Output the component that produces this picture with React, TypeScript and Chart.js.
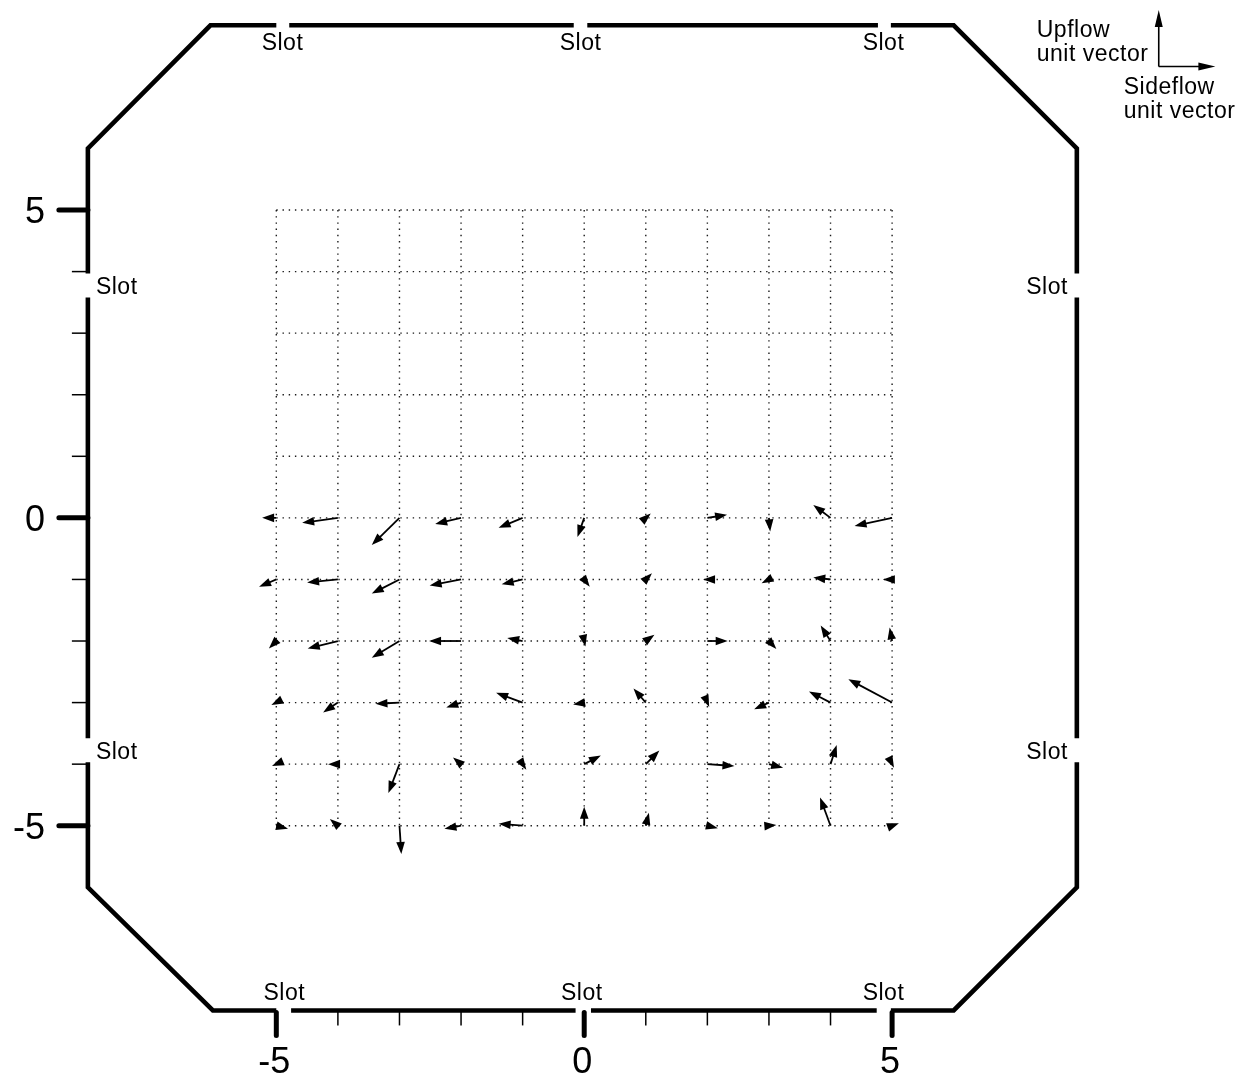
import React, { useEffect, useRef } from 'react';
import { Chart, registerables } from 'chart.js';

Chart.register(...registerables);

// ---------- data ----------
const GRID_LINES = [-5, -4, -3, -2, -1, 0, 1, 2, 3, 4, 5];
const COLUMNS_X = [-5, -4, -3, -2, -1, 0, 1, 2, 3, 4, 5];

// flow vectors (grid units) for each measurement row, columns x = -5..5
const SIDEFLOW_Y0 = [-0.23, -0.58, -0.45, -0.42, -0.39, -0.11, 0.08, 0.32, 0.02, -0.28, -0.61];
const UPFLOW_Y0 = [0.0, -0.08, -0.44, -0.1, -0.16, -0.31, 0.07, 0.05, -0.22, 0.21, -0.13];
const SIDEFLOW_Y1 = [-0.28, -0.5, -0.45, -0.51, -0.34, 0.09, 0.1, -0.07, -0.12, -0.28, -0.15];
const UPFLOW_Y1 = [-0.12, -0.05, -0.23, -0.1, -0.08, -0.12, 0.1, 0.0, -0.06, 0.03, 0.0];
const SIDEFLOW_Y2 = [-0.12, -0.49, -0.45, -0.52, -0.25, 0.02, 0.14, 0.33, 0.12, -0.16, -0.04];
const UPFLOW_Y2 = [-0.12, -0.12, -0.27, 0.0, 0.05, -0.09, 0.1, 0.0, -0.13, 0.25, 0.22];
const SIDEFLOW_Y3 = [-0.08, -0.24, -0.39, -0.24, -0.43, -0.18, -0.2, 0.03, -0.24, -0.35, -0.71];
const UPFLOW_Y3 = [-0.04, -0.16, -0.02, -0.08, 0.16, -0.03, 0.23, -0.07, -0.11, 0.18, 0.38];
const SIDEFLOW_Y4 = [-0.07, -0.16, -0.18, -0.13, 0.06, 0.27, 0.22, 0.44, 0.23, 0.1, 0.03];
const UPFLOW_Y4 = [-0.03, 0.0, -0.47, 0.11, -0.09, 0.14, 0.22, -0.03, -0.06, 0.31, -0.06];
const SIDEFLOW_Y5 = [0.19, -0.13, 0.03, -0.27, -0.39, 0.0, 0.05, 0.17, 0.12, -0.17, 0.11];
const UPFLOW_Y5 = [-0.05, 0.11, -0.46, -0.05, 0.03, 0.31, 0.21, -0.04, 0.01, 0.46, 0.04];

const FLOW_ROWS = [
  { y: 0, side: SIDEFLOW_Y0, up: UPFLOW_Y0 },
  { y: -1, side: SIDEFLOW_Y1, up: UPFLOW_Y1 },
  { y: -2, side: SIDEFLOW_Y2, up: UPFLOW_Y2 },
  { y: -3, side: SIDEFLOW_Y3, up: UPFLOW_Y3 },
  { y: -4, side: SIDEFLOW_Y4, up: UPFLOW_Y4 },
  { y: -5, side: SIDEFLOW_Y5, up: UPFLOW_Y5 },
];

// vessel boundary (octagon) with slot openings; null = gap
const BOUNDARY_X = [
  -4.79, -0.17, null, 0.05, 4.77, null, 4.98, 6, 8, 8, null, 8, 8, null, 8, 8, 6, 4.98, null,
  4.75, 0.11, null, -0.14, -4.76, null, -5.0, -6.03, -8.06, -8.06, null, -8.06, -8.06, null, -8.06, -8.06, -6.07, -5.0,
];
const BOUNDARY_Y = [
  8, 8, null, 8, 8, null, 8, 8, 6, 3.97, null, 3.58, -3.58, null, -3.97, -6, -8, -8, null,
  -8, -8, null, -8, -8, null, -8, -8, -6, -3.97, null, -3.58, 3.58, null, 3.97, 6, 8, 8,
];

const EDGE_LEFT = -8.06;
const EDGE_RIGHT = 8;
const EDGE_TOP = 8;
const EDGE_BOTTOM = -8;

const SLOT_TOP_X = [-4.9, -0.06, 4.86];
const SLOT_BOTTOM_X = [-4.87, -0.04, 4.86];
const SLOT_SIDE_Y = [3.775, -3.775];

const LEFT_MAJOR_TICKS = [5, 0, -5];
const LEFT_MINOR_TICKS = [4, 3, 2, 1, -1, -2, -3, -4];
const BOTTOM_MAJOR_TICKS = [-5, 0, 5];
const BOTTOM_MINOR_TICKS = [-4, -3, -2, -1, 1, 2, 3, 4];
const TICK_VALUES = [-5, 0, 5];
const TICK_LABELS = ['-5', '0', '5'];

const LEGEND_ORIGIN_X = 9.33;
const LEGEND_ORIGIN_Y = 7.33;
const UNIT_VECTOR = 0.92;

const FONT = '"Liberation Sans", Arial, Helvetica, sans-serif';

// ---------- drawing helpers ----------
function arrow(
  ctx: CanvasRenderingContext2D,
  x0: number, y0: number, x1: number, y1: number,
  headLen: number, headHalf: number, lw: number
) {
  const dx = x1 - x0;
  const dy = y1 - y0;
  const len = Math.hypot(dx, dy);
  if (len < 0.01) return;
  const ux = dx / len;
  const uy = dy / len;
  const bx = x1 - ux * headLen;
  const by = y1 - uy * headLen;
  ctx.lineWidth = lw;
  if (len > headLen) {
    ctx.beginPath();
    ctx.moveTo(x0, y0);
    ctx.lineTo(bx + ux * 1, by + uy * 1);
    ctx.stroke();
  }
  ctx.beginPath();
  ctx.moveTo(x1, y1);
  ctx.lineTo(bx - uy * headHalf, by + ux * headHalf);
  ctx.lineTo(bx + uy * headHalf, by - ux * headHalf);
  ctx.closePath();
  ctx.fill();
}

const flowPlugin = {
  id: 'flowPlugin',
  beforeDatasetsDraw(chart: any) {
    const { ctx } = chart;
    const xs = chart.scales.x;
    const ys = chart.scales.y;
    const gmin = GRID_LINES[0];
    const gmax = GRID_LINES[GRID_LINES.length - 1];
    ctx.save();
    ctx.strokeStyle = '#1a1a1a';
    ctx.lineWidth = 1.4;
    ctx.setLineDash([1.4, 4.8]);
    for (const v of GRID_LINES) {
      const px = xs.getPixelForValue(v);
      ctx.beginPath();
      ctx.moveTo(px, ys.getPixelForValue(gmax));
      ctx.lineTo(px, ys.getPixelForValue(gmin));
      ctx.stroke();
      const py = ys.getPixelForValue(v);
      ctx.beginPath();
      ctx.moveTo(xs.getPixelForValue(gmin), py);
      ctx.lineTo(xs.getPixelForValue(gmax), py);
      ctx.stroke();
    }
    ctx.restore();
  },
  afterDatasetsDraw(chart: any) {
    const { ctx } = chart;
    const xs = chart.scales.x;
    const ys = chart.scales.y;
    const left = xs.getPixelForValue(EDGE_LEFT);
    const right = xs.getPixelForValue(EDGE_RIGHT);
    const top = ys.getPixelForValue(EDGE_TOP);
    const bottom = ys.getPixelForValue(EDGE_BOTTOM);

    ctx.save();
    ctx.strokeStyle = '#000';
    ctx.fillStyle = '#000';
    ctx.lineCap = 'butt';

    // left ticks
    for (const t of LEFT_MINOR_TICKS) {
      const py = ys.getPixelForValue(t);
      ctx.lineWidth = 1.5;
      ctx.beginPath();
      ctx.moveTo(left - 16, py);
      ctx.lineTo(left, py);
      ctx.stroke();
    }
    ctx.lineCap = 'round';
    for (const t of LEFT_MAJOR_TICKS) {
      const py = ys.getPixelForValue(t);
      ctx.lineWidth = 5;
      ctx.beginPath();
      ctx.moveTo(left - 29, py);
      ctx.lineTo(left, py);
      ctx.stroke();
    }
    ctx.lineCap = 'butt';
    // bottom ticks
    for (const t of BOTTOM_MINOR_TICKS) {
      const px = xs.getPixelForValue(t);
      ctx.lineWidth = 1.5;
      ctx.beginPath();
      ctx.moveTo(px, bottom);
      ctx.lineTo(px, bottom + 15);
      ctx.stroke();
    }
    ctx.lineCap = 'round';
    for (const t of BOTTOM_MAJOR_TICKS) {
      const px = xs.getPixelForValue(t);
      ctx.lineWidth = 5;
      ctx.beginPath();
      ctx.moveTo(px, bottom + 2);
      ctx.lineTo(px, bottom + 25);
      ctx.stroke();
    }
    ctx.lineCap = 'butt';

    // tick labels
    ctx.font = `36px ${FONT}`;
    ctx.textBaseline = 'alphabetic';
    ctx.textAlign = 'right';
    LEFT_MAJOR_TICKS.forEach((t) => {
      const label = TICK_LABELS[TICK_VALUES.indexOf(t)];
      ctx.fillText(label, 45, ys.getPixelForValue(t) + 13);
    });
    ctx.textAlign = 'center';
    BOTTOM_MAJOR_TICKS.forEach((t) => {
      const label = TICK_LABELS[TICK_VALUES.indexOf(t)];
      ctx.fillText(label, xs.getPixelForValue(t) - 2, bottom + 63);
    });

    // slot labels
    ctx.font = `23px ${FONT}`;
    (ctx as any).letterSpacing = '0.5px';
    ctx.textAlign = 'center';
    for (const sx of SLOT_TOP_X) {
      ctx.fillText('Slot', xs.getPixelForValue(sx), top + 25);
    }
    for (const sx of SLOT_BOTTOM_X) {
      ctx.fillText('Slot', xs.getPixelForValue(sx), bottom - 10);
    }
    ctx.textAlign = 'left';
    for (const sy of SLOT_SIDE_Y) {
      ctx.fillText('Slot', left + 8, ys.getPixelForValue(sy) + 8.5);
    }
    ctx.textAlign = 'right';
    for (const sy of SLOT_SIDE_Y) {
      ctx.fillText('Slot', right - 9, ys.getPixelForValue(sy) + 8.5);
    }

    // legend
    const lx = xs.getPixelForValue(LEGEND_ORIGIN_X);
    const ly = ys.getPixelForValue(LEGEND_ORIGIN_Y);
    const lux = xs.getPixelForValue(LEGEND_ORIGIN_X + UNIT_VECTOR);
    const luy = ys.getPixelForValue(LEGEND_ORIGIN_Y + UNIT_VECTOR);
    arrow(ctx, lx, ly, lx, luy, 17, 4, 1.6);
    arrow(ctx, lx, ly, lux, ly, 17, 4, 1.6);
    ctx.textAlign = 'left';
    ctx.fillText('Upflow', lx - 122, ly - 30);
    ctx.fillText('unit vector', lx - 122, ly - 6);
    ctx.fillText('Sideflow', lx - 35, ly + 27);
    ctx.fillText('unit vector', lx - 35, ly + 51);
    (ctx as any).letterSpacing = '0px';

    // flow arrows
    for (const row of FLOW_ROWS) {
      COLUMNS_X.forEach((cx, i) => {
        const x0 = xs.getPixelForValue(cx);
        const y0 = ys.getPixelForValue(row.y);
        const x1 = xs.getPixelForValue(cx + row.side[i]);
        const y1 = ys.getPixelForValue(row.y + row.up[i]);
        arrow(ctx, x0, y0, x1, y1, 12, 4.3, 1.8);
      });
    }
    ctx.restore();
  },
};

export default function App() {
  const canvasRef = useRef<HTMLCanvasElement>(null);

  useEffect(() => {
    const canvas = canvasRef.current;
    if (!canvas) return;
    const chart = new Chart(canvas, {
      type: 'scatter',
      data: {
        datasets: [
          {
            label: 'Boundary',
            data: BOUNDARY_X.map((x, i) => ({ x: x as any, y: BOUNDARY_Y[i] as any })),
            showLine: true,
            borderColor: '#000',
            borderWidth: 4.6,
            pointRadius: 0,
            borderJoinStyle: 'miter',
            borderCapStyle: 'butt',
            spanGaps: false,
            clip: false as any,
            tension: 0,
          } as any,
        ],
      },
      options: {
        animation: false,
        responsive: true,
        maintainAspectRatio: false,
        events: [],
        layout: { padding: { left: 30, right: 42, top: 13, bottom: 6 } },
        plugins: { legend: { display: false }, tooltip: { enabled: false } },
        scales: {
          x: { type: 'linear', min: -9, max: 10, display: false },
          y: { type: 'linear', min: -9, max: 8.2, display: false },
        },
      },
      plugins: [flowPlugin],
    });
    return () => chart.destroy();
  }, []);

  return (
    <div style={{ position: 'fixed', left: 0, top: 0, width: 1242, height: 1078, background: '#fff' }}>
      <canvas ref={canvasRef} />
    </div>
  );
}
